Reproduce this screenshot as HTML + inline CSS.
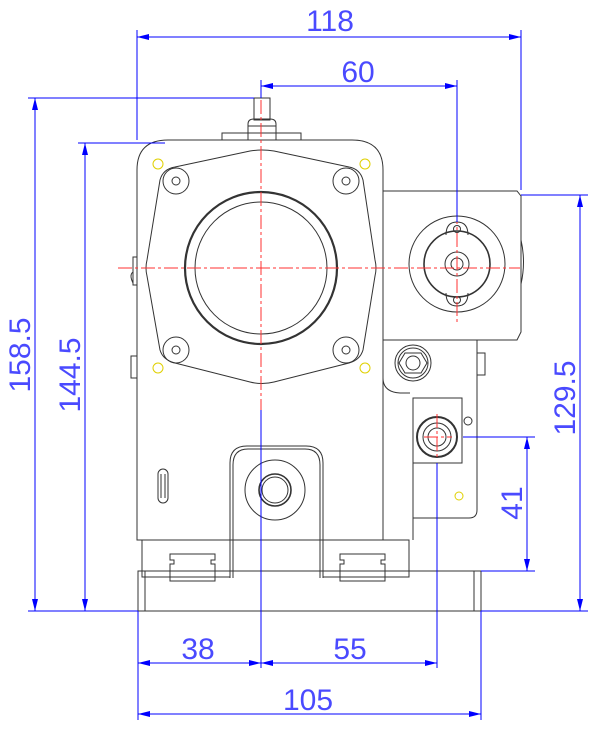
<!DOCTYPE html>
<html><head><meta charset="utf-8"><style>html,body{margin:0;padding:0;background:#fff}svg{display:block}</style></head><body>
<svg width="600" height="730" viewBox="0 0 600 730" xmlns="http://www.w3.org/2000/svg">
<defs>
<marker id="a" viewBox="0 0 12 6" refX="12" refY="3" markerWidth="12" markerHeight="6" orient="auto-start-reverse" markerUnits="userSpaceOnUse"><path d="M0,0 L12,3 L0,6 z" fill="#0000ff"/></marker>
</defs>
<g fill="none" stroke="#333" stroke-width="1">
<!-- shaft -->
<rect x="254" y="98" width="16" height="22"/>
<path d="M248,140 V124 Q248,119 254,119 H270 Q276,119 276,124 V140"/>
<line x1="248" y1="126" x2="276" y2="126"/>
<rect x="222" y="133" width="79" height="7"/>
<!-- main body -->
<path d="M137,540 V170 Q137,140 168,140 H352 Q383,140 383,170 V540 Z"/>
<!-- flange -->
<path d="M160,180 Q163,169 175,167 L250,151 Q262,149 274,151 L349,167 Q360,169 363,180 L375,260 Q377,268 375,276 L363,350 Q360,360 349,363 L274,382 Q262,385 250,382 L175,363 Q163,360 160,350 L147,276 Q145,268 147,260 Z"/>
<circle cx="261" cy="268" r="76" stroke-width="2.2"/>
<circle cx="261" cy="268" r="66"/>
<g>
<circle cx="176" cy="181" r="13"/><circle cx="176" cy="181" r="4"/>
<circle cx="346" cy="181" r="13"/><circle cx="346" cy="181" r="4"/>
<circle cx="176" cy="350" r="13"/><circle cx="176" cy="350" r="4"/>
<circle cx="346" cy="350" r="13"/><circle cx="346" cy="350" r="4"/>
</g>
<!-- side tabs -->
<path d="M137,257 H133 V285 H137"/><path d="M133,272 Q129,275 133,283"/>
<rect x="131" y="356" width="6" height="22"/>
<!-- right pump box -->
<path d="M383,191 H517 L521,196 V332 L517,340 H383"/>
<path d="M521,240 Q526,262 521,284"/>
<circle cx="457" cy="264" r="48"/>
<circle cx="457" cy="264" r="33" stroke-width="1.6"/>
<circle cx="457" cy="264" r="12"/><circle cx="457" cy="264" r="6"/>
<path d="M446,235 Q446,222 457,222 Q468,222 468,235"/><circle cx="457" cy="229" r="3.5"/>
<path d="M446,293 Q446,306 457,306 Q468,306 468,293"/><circle cx="457" cy="300" r="3.5"/>
<!-- lower right plate -->
<path d="M383,340 V378 Q383,392 400,393 H410"/>
<path d="M477,340 V510 Q477,518 469,518 H413"/>
<rect x="477" y="353" width="8" height="22"/>
<circle cx="413" cy="363" r="18"/><circle cx="413" cy="363" r="15"/>
<path d="M405,353 L421,353 L427,363 L421,373 L405,373 L399,363 Z"/>
<circle cx="413" cy="363" r="7"/>
<rect x="413" y="398" width="49" height="65"/>
<circle cx="437" cy="437" r="20" stroke-width="2"/>
<circle cx="437" cy="437" r="14"/><circle cx="437" cy="437" r="9"/>
<circle cx="468" cy="421" r="4"/>
<line x1="413" y1="463" x2="413" y2="540"/>
<!-- boss -->
<path d="M230,578 V463 Q230,446 247,446 H306 Q323,446 323,463 V578"/>
<path d="M233,578 V465 Q233,449 248,449 H305 Q320,449 320,465 V578"/>
<circle cx="275" cy="490" r="30"/>
<circle cx="275" cy="490" r="16" stroke-width="1.6"/><circle cx="275" cy="490" r="13"/>
<rect x="158" y="469" width="10" height="34" rx="5"/>
<line x1="161" y1="474" x2="161" y2="498"/><line x1="165" y1="474" x2="165" y2="498"/>
<!-- rails -->
<rect x="142" y="540" width="88" height="37"/>
<rect x="323" y="540" width="86" height="37"/>
<path d="M170,554 H215 V560 H211 V564 H215 V581 H170 V564 H174 V560 H170 Z"/>
<path d="M380,554 H425 V560 H421 V564 H425 V581 H380 V564 H384 V560 H380 Z" transform="translate(-40,0)"/>
<!-- base -->
<rect x="138" y="571" width="343" height="40"/>
<line x1="145" y1="571" x2="145" y2="611"/><line x1="474" y1="571" x2="474" y2="611"/>
</g>
<!-- yellow -->
<g fill="none" stroke="#e0d000" stroke-width="1">
<circle cx="158" cy="164" r="5"/><circle cx="365" cy="164" r="5"/>
<circle cx="158" cy="368" r="5"/><circle cx="365" cy="368" r="5"/>
<circle cx="459" cy="496" r="4"/>
</g>
<!-- center lines -->
<g stroke="#ff3030" stroke-width="1" stroke-dasharray="14,3,3,3" fill="none">
<line x1="118" y1="268" x2="520" y2="268"/>
<line x1="261" y1="100" x2="261" y2="410"/>
<line x1="457" y1="210" x2="457" y2="322"/>
<line x1="424" y1="437" x2="452" y2="437"/>
<line x1="437" y1="414" x2="437" y2="460"/>
</g>
<!-- dimensions -->
<g stroke="#0000ff" stroke-width="1" fill="none">
<line x1="137" y1="30" x2="137" y2="140"/><line x1="521" y1="30" x2="521" y2="190"/>
<line x1="137" y1="37" x2="521" y2="37" marker-start="url(#a)" marker-end="url(#a)"/>
<line x1="261" y1="80" x2="261" y2="98"/><line x1="457" y1="80" x2="457" y2="222"/>
<line x1="261" y1="86" x2="457" y2="86" marker-start="url(#a)" marker-end="url(#a)"/>
<line x1="28" y1="98" x2="254" y2="98"/><line x1="78" y1="143" x2="165" y2="143"/>
<line x1="28" y1="611" x2="138" y2="611"/><line x1="481" y1="611" x2="588" y2="611"/>
<line x1="35" y1="98" x2="35" y2="611" marker-start="url(#a)" marker-end="url(#a)"/>
<line x1="85" y1="143" x2="85" y2="611" marker-start="url(#a)" marker-end="url(#a)"/>
<line x1="521" y1="195" x2="588" y2="195"/>
<line x1="580" y1="195" x2="580" y2="611" marker-start="url(#a)" marker-end="url(#a)"/>
<line x1="463" y1="437" x2="535" y2="437"/><line x1="481" y1="571" x2="535" y2="571"/>
<line x1="527" y1="437" x2="527" y2="571" marker-start="url(#a)" marker-end="url(#a)"/>
<line x1="261" y1="410" x2="261" y2="668"/>
<line x1="437" y1="463" x2="437" y2="668"/>
<line x1="138" y1="611" x2="138" y2="720"/><line x1="481" y1="611" x2="481" y2="720"/>
<line x1="138" y1="663" x2="261" y2="663" marker-start="url(#a)" marker-end="url(#a)"/>
<line x1="261" y1="663" x2="437" y2="663" marker-start="url(#a)" marker-end="url(#a)"/>
<line x1="138" y1="714" x2="481" y2="714" marker-start="url(#a)" marker-end="url(#a)"/>
</g>
<g fill="#4a4aff" font-family="Liberation Sans, sans-serif" font-size="30" text-anchor="middle">
<text x="330" y="31">118</text>
<text x="358" y="82">60</text>
<text x="198" y="659">38</text>
<text x="350" y="659">55</text>
<text x="308" y="710">105</text>
<text transform="translate(30,355) rotate(-90)">158.5</text>
<text transform="translate(80,375) rotate(-90)">144.5</text>
<text transform="translate(575,398) rotate(-90)">129.5</text>
<text transform="translate(522,503) rotate(-90)">41</text>
</g>
</svg>
</body></html>
